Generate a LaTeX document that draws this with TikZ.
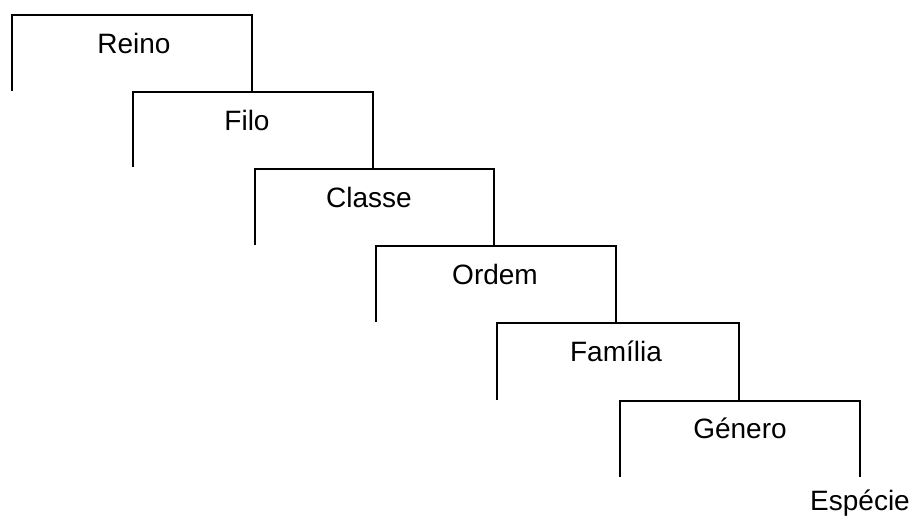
\documentclass[tikz,border=0pt]{standalone}
\usepackage{fontspec}
\setmainfont{Liberation Sans}
\begin{document}
\begin{tikzpicture}[x=1pt,y=-1pt,
  bracket/.style={line width=2.4pt, line cap=rect},
  lab/.style={font=\fontsize{28}{33}\selectfont, anchor=base, inner sep=0pt}]
\useasboundingbox (0,0) rectangle (914,518);
% brackets
\draw[bracket] (12,90) -- (12,15) -- (252,15) -- (252,92);
\draw[bracket] (133,166) -- (133,92) -- (373,92) -- (373,169);
\draw[bracket] (255,244) -- (255,169) -- (494,169) -- (494,246);
\draw[bracket] (376,321) -- (376,246) -- (616,246) -- (616,323);
\draw[bracket] (497,399) -- (497,323) -- (739,323) -- (739,401);
\draw[bracket] (620,476) -- (620,401) -- (860,401) -- (860,476);
% labels
\node[lab] (reino) at (134,54) {Reino};
\node[lab] (filo) at (247,131) {Filo};
\node[lab] (classe) at (369,208) {Classe};
\node[lab] (ordem) at (495,285) {Ordem};
\node[lab] (familia) at (616,362) {Família};
\node[lab] (genero) at (740,439) {Género};
\node[lab] (especie) at (860,511) {Espécie};
\end{tikzpicture}
\end{document}
